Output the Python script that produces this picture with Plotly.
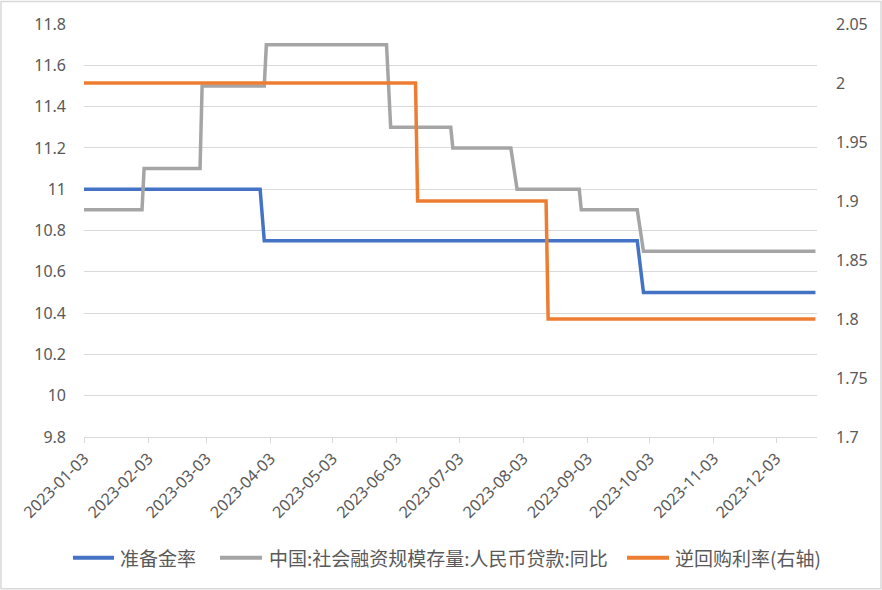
import plotly.graph_objects as go

# Step series vertices (date, value)
rrr_dates = ["2023-01-03", "2023-03-29", "2023-03-31", "2023-09-27", "2023-09-30", "2023-12-22"]
rrr_vals = [11.0, 11.0, 10.75, 10.75, 10.5, 10.5]

loan_dates = ["2023-01-03", "2023-01-31", "2023-02-01", "2023-02-28", "2023-03-01",
              "2023-03-31", "2023-04-01", "2023-05-29", "2023-05-31", "2023-06-29",
              "2023-06-30", "2023-07-28", "2023-07-31", "2023-08-30", "2023-08-31",
              "2023-09-27", "2023-09-30", "2023-12-22"]
loan_vals = [10.9, 10.9, 11.1, 11.1, 11.5,
             11.5, 11.7, 11.7, 11.3, 11.3,
             11.2, 11.2, 11.0, 11.0, 10.9,
             10.9, 10.7, 10.7]

repo_dates = ["2023-01-03", "2023-06-12", "2023-06-13", "2023-08-14", "2023-08-15", "2023-12-22"]
repo_vals = [2.0, 2.0, 1.9, 1.9, 1.8, 1.8]

x_ticks = ["2023-01-03", "2023-02-03", "2023-03-03", "2023-04-03", "2023-05-03", "2023-06-03",
           "2023-07-03", "2023-08-03", "2023-09-03", "2023-10-03", "2023-11-03", "2023-12-03"]
left_ticks = [9.8, 10, 10.2, 10.4, 10.6, 10.8, 11, 11.2, 11.4, 11.6, 11.8]
left_labels = ["9.8", "10", "10.2", "10.4", "10.6", "10.8", "11", "11.2", "11.4", "11.6", "11.8"]
right_ticks = [1.7, 1.75, 1.8, 1.85, 1.9, 1.95, 2.0, 2.05]
right_labels = ["1.7", "1.75", "1.8", "1.85", "1.9", "1.95", "2", "2.05"]

names = ["准备金率", "中国:社会融资规模存量:人民币贷款:同比", "逆回购利率(右轴)"]
colors = ["#4472C4", "#A5A5A5", "#ED7D31"]

FONT = "Noto Sans, Noto Sans CJK SC"
TXT = "#595959"

fig = go.Figure()
fig.add_trace(go.Scatter(x=rrr_dates, y=rrr_vals, mode="lines", name=names[0],
                         line=dict(color=colors[0], width=3.5)))
fig.add_trace(go.Scatter(x=loan_dates, y=loan_vals, mode="lines", name=names[1],
                         line=dict(color=colors[1], width=3.5)))
fig.add_trace(go.Scatter(x=repo_dates, y=repo_vals, mode="lines", name=names[2],
                         line=dict(color=colors[2], width=3.5), yaxis="y2"))

L, T = 84, 23.5
W, H = 733, 413.5


def px_x(p):
    return (p - L) / W


def px_y(p):
    return (T + H - p) / H


fig.update_layout(
    width=882, height=590,
    margin=dict(l=L, r=882 - L - W, t=T, b=590 - T - H, pad=0),
    paper_bgcolor="white", plot_bgcolor="white",
    font=dict(family=FONT, color=TXT, size=16),
    showlegend=False,
    xaxis=dict(type="date", range=["2023-01-03", "2023-12-22 18:00"],
               tickvals=x_ticks, ticktext=x_ticks, tickangle=-45,
               ticks="outside", ticklen=5, tickcolor="#D9D9D9",
               showline=True, linecolor="#D9D9D9", linewidth=1,
               showgrid=False, zeroline=False,
               tickfont=dict(size=16, color=TXT, family=FONT)),
    yaxis=dict(range=[9.8, 11.8], tickvals=left_ticks, ticktext=left_labels,
               showgrid=True, gridcolor="#D9D9D9", gridwidth=1, zeroline=False,
               ticks="", ticklabelstandoff=17,
               tickfont=dict(size=16, color=TXT, family=FONT)),
    yaxis2=dict(range=[1.7, 2.05], tickvals=right_ticks, ticktext=right_labels,
                overlaying="y", side="right", showgrid=False, zeroline=False,
                ticks="", ticklabelstandoff=18,
                tickfont=dict(size=16, color=TXT, family=FONT)),
)

# chart border
fig.add_shape(type="rect", xref="paper", yref="paper",
              x0=px_x(1), x1=px_x(881), y0=px_y(589), y1=px_y(1),
              line=dict(color="#D9D9D9", width=1.5), fillcolor="rgba(0,0,0,0)", layer="below")

# legend drawn as line samples + text (pixel positions of the layout)
leg_y = 558
leg_lines = [(73, 114), (220, 262), (627, 669)]
leg_text_x = [118, 267, 673]
for (a, b), tx, nm, col in zip(leg_lines, leg_text_x, names, colors):
    fig.add_shape(type="line", xref="paper", yref="paper",
                  x0=px_x(a), x1=px_x(b), y0=px_y(leg_y), y1=px_y(leg_y),
                  line=dict(color=col, width=4))
    fig.add_annotation(xref="paper", yref="paper", x=px_x(tx), y=px_y(leg_y),
                       text=nm, showarrow=False, xanchor="left", yanchor="middle",
                       font=dict(size=19, color=TXT, family="Noto Sans CJK SC"))

fig.write_html("out.html", post_script="document.body.style.margin='0';",
               config={"displayModeBar": False})
